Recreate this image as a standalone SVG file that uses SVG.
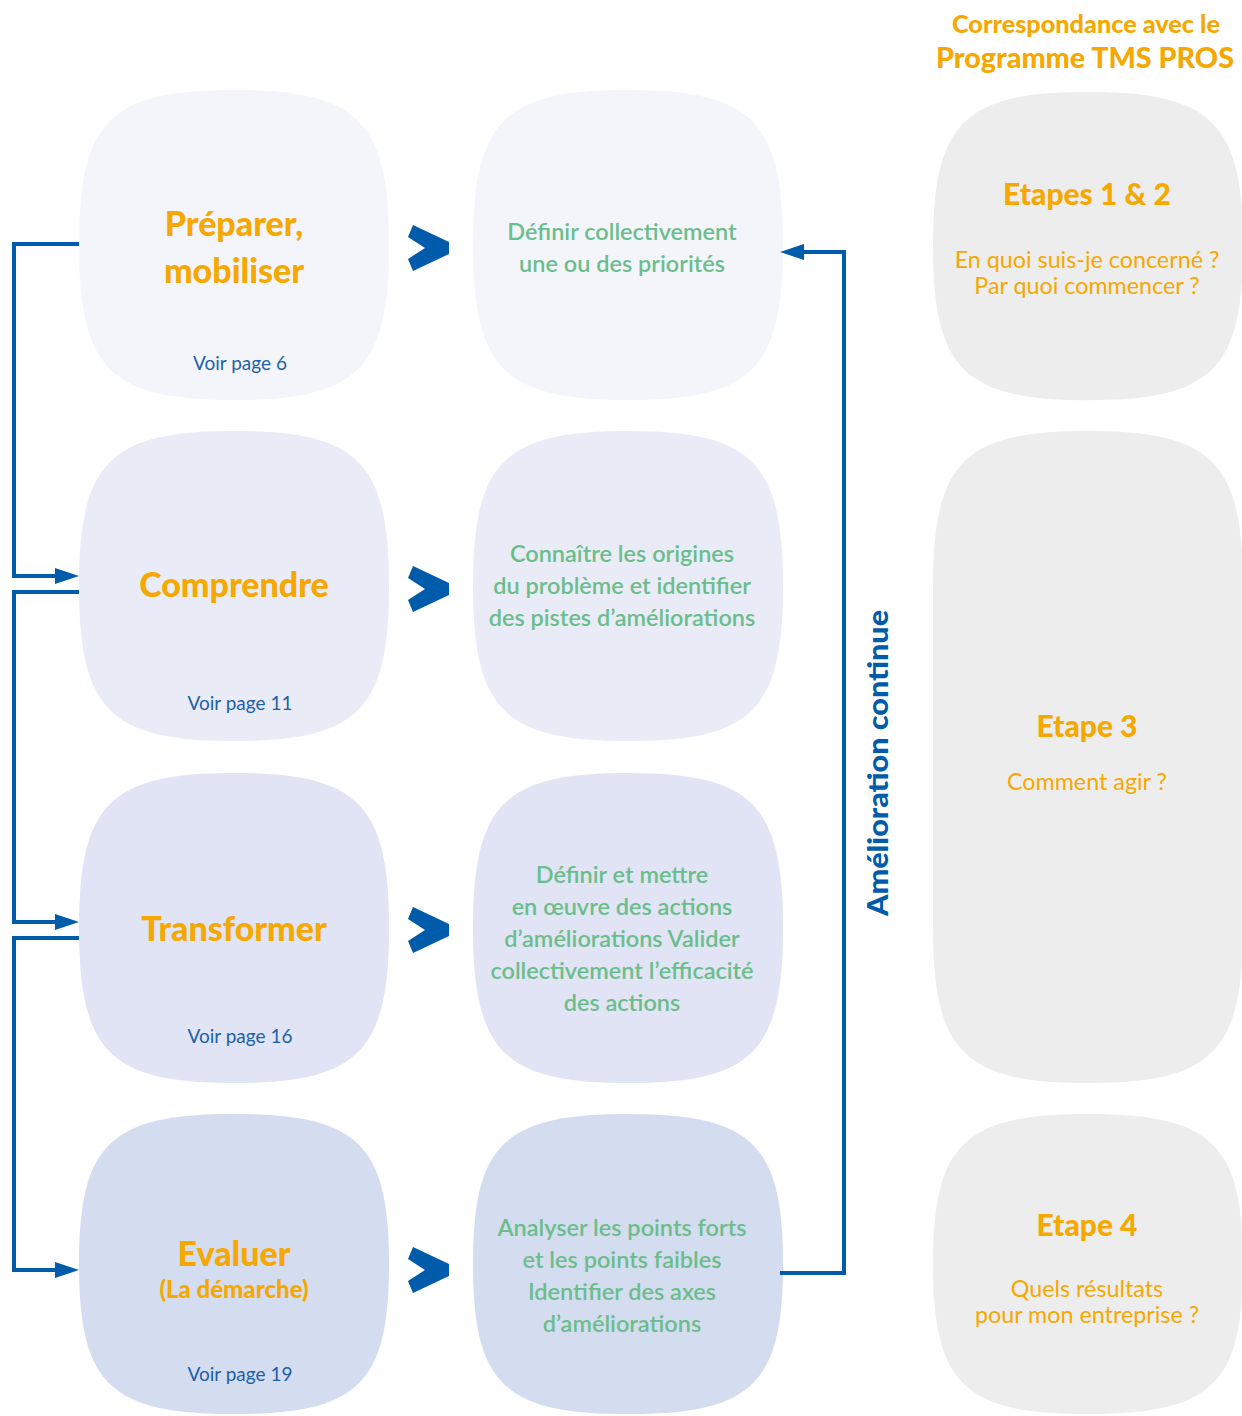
<svg xmlns="http://www.w3.org/2000/svg" xmlns:xlink="http://www.w3.org/1999/xlink" width="1242" height="1416" viewBox="0 0 1242 1416">
<style>
.title{font-family:Lato,"Open Sans","Liberation Sans",sans-serif;font-weight:900;fill:#F6A800;text-anchor:middle}
.sub{font-family:Lato,"Open Sans","Liberation Sans",sans-serif;font-weight:400;fill:#F6A800;text-anchor:middle;font-size:23.3px}
.voir{font-family:Lato,"Open Sans","Liberation Sans",sans-serif;font-weight:400;fill:#1E5FA8;text-anchor:middle;font-size:19px}
.desc{font-family:Lato,"Open Sans","Liberation Sans",sans-serif;font-weight:600;fill:#6BBE8C;text-anchor:middle;font-size:23.5px}
.conn{fill:none;stroke:#005BAA;stroke-width:4;stroke-linejoin:miter}
.vert{font-family:Lato,"Open Sans","Liberation Sans",sans-serif;font-weight:900;fill:#005BAA;font-size:29px;text-anchor:middle}
</style>
<defs>
<path id="sq" d="M155,0 C279,0 310,31 310,155 C310,279 279,310 155,310 C31,310 0,279 0,155 C0,31 31,0 155,0Z"/>
<path id="sqTall" d="M155,0 C279,0 310,31 310,155 L310,497 C310,621 279,652 155,652 C31,652 0,621 0,497 L0,155 C0,31 31,0 155,0Z"/>
<path id="chev" d="M413,-23 L449,-6 L449,6 L413,23 L408,11 L425,0 L408,-11Z" fill="#005BAA"/>
<marker id="arr" markerUnits="userSpaceOnUse" viewBox="0 0 24 16" refX="18" refY="8" markerWidth="24" markerHeight="16" orient="auto">
<path d="M0,0 L24,8 L0,16Z" fill="#005BAA"/>
</marker>
</defs>

<g id="header">
<text class="title" x="1086" y="33" font-size="24" textLength="268" lengthAdjust="spacingAndGlyphs">Correspondance avec le</text>
<text class="title" x="1085" y="68" font-size="29" textLength="298" lengthAdjust="spacingAndGlyphs">Programme TMS PROS</text>
</g>

<g id="node-preparer">
<use xlink:href="#sq" transform="translate(79,90)" fill="#F4F5FB"/>
<text class="title" x="234" y="236" font-size="34">Préparer,</text>
<text class="title" x="234" y="283" font-size="34">mobiliser</text>
<text class="voir" x="240" y="370">Voir page 6</text>
</g>
<g id="node-comprendre">
<use xlink:href="#sq" transform="translate(79,431)" fill="#E9EBF7"/>
<text class="title" x="234" y="597" font-size="34">Comprendre</text>
<text class="voir" x="240" y="710">Voir page 11</text>
</g>
<g id="node-transformer">
<use xlink:href="#sq" transform="translate(79,773)" fill="#E0E4F5"/>
<text class="title" x="234" y="941" font-size="34">Transformer</text>
<text class="voir" x="240" y="1043">Voir page 16</text>
</g>
<g id="node-evaluer">
<use xlink:href="#sq" transform="translate(79,1114) scale(1,0.968)" fill="#D4DCF0"/>
<text class="title" x="234" y="1266" font-size="34">Evaluer</text>
<text class="title" x="234" y="1298" font-size="24" font-weight="600">(La démarche)</text>
<text class="voir" x="240" y="1381">Voir page 19</text>
</g>

<g id="node-desc1">
<use xlink:href="#sq" transform="translate(473,90)" fill="#F4F5FB"/>
<text class="desc" x="622" y="240">Définir collectivement</text>
<text class="desc" x="622" y="272">une ou des priorités</text>
</g>
<g id="node-desc2">
<use xlink:href="#sq" transform="translate(473,431)" fill="#E9EBF7"/>
<text class="desc" x="622" y="562">Connaître les origines</text>
<text class="desc" x="622" y="594">du problème et identifier</text>
<text class="desc" x="622" y="626">des pistes d’améliorations</text>
</g>
<g id="node-desc3">
<use xlink:href="#sq" transform="translate(473,773)" fill="#E0E4F5"/>
<text class="desc" x="622" y="883">Définir et mettre</text>
<text class="desc" x="622" y="915">en œuvre des actions</text>
<text class="desc" x="622" y="947">d’améliorations Valider</text>
<text class="desc" x="622" y="979">collectivement l’efficacité</text>
<text class="desc" x="622" y="1011">des actions</text>
</g>
<g id="node-desc4">
<use xlink:href="#sq" transform="translate(473,1114) scale(1,0.968)" fill="#D4DCF0"/>
<text class="desc" x="622" y="1236">Analyser les points forts</text>
<text class="desc" x="622" y="1268">et les points faibles</text>
<text class="desc" x="622" y="1300">Identifier des axes</text>
<text class="desc" x="622" y="1332">d’améliorations</text>
</g>

<g id="node-etapes12">
<use xlink:href="#sq" transform="translate(933,92) scale(1,0.994)" fill="#EDEDED"/>
<text class="title" x="1087" y="205" font-size="30">Etapes 1 &amp; 2</text>
<text class="sub" x="1087" y="268">En quoi suis-je concerné ?</text>
<text class="sub" x="1087" y="294">Par quoi commencer ?</text>
</g>
<g id="node-etape3">
<use xlink:href="#sqTall" transform="translate(933,431)" fill="#EDEDED"/>
<text class="title" x="1087" y="737" font-size="30">Etape 3</text>
<text class="sub" x="1087" y="790">Comment agir ?</text>
</g>
<g id="node-etape4">
<use xlink:href="#sq" transform="translate(933,1114) scale(1,0.968)" fill="#EDEDED"/>
<text class="title" x="1087" y="1236" font-size="30">Etape 4</text>
<text class="sub" x="1087" y="1297">Quels résultats</text>
<text class="sub" x="1087" y="1323">pour mon entreprise ?</text>
</g>

<g id="connectors">
<use xlink:href="#chev" transform="translate(0,248)"/>
<use xlink:href="#chev" transform="translate(0,589)"/>
<use xlink:href="#chev" transform="translate(0,930)"/>
<use xlink:href="#chev" transform="translate(0,1270)"/>
<path class="conn" d="M79,244 H14 V576 H73" marker-end="url(#arr)"/>
<path class="conn" d="M79,592 H14 V922 H73" marker-end="url(#arr)"/>
<path class="conn" d="M79,938 H14 V1270 H73" marker-end="url(#arr)"/>
<path class="conn" d="M780,1273 H844 V252 H786" marker-end="url(#arr)"/>
<text class="vert" transform="translate(888,763) rotate(-90)" textLength="306" lengthAdjust="spacingAndGlyphs">Amélioration continue</text>
</g>
</svg>
